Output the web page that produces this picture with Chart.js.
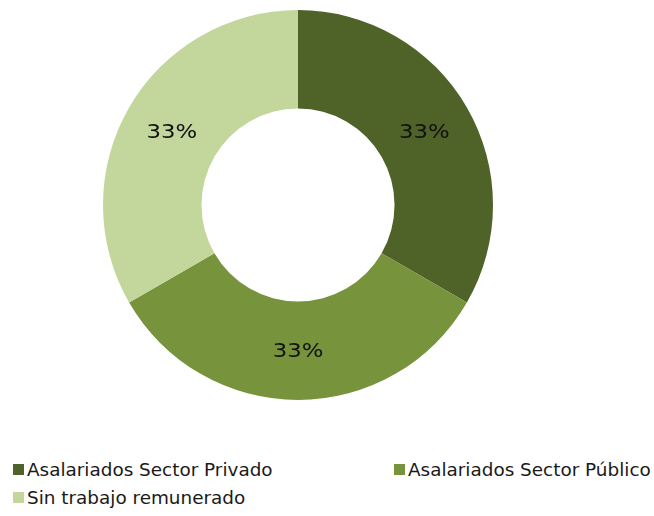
<!DOCTYPE html>
<html>
<head>
<meta charset="utf-8">
<script src="https://cdn.jsdelivr.net/npm/chart.js@4/dist/chart.umd.min.js"></script>
<style>
  html, body { margin: 0; padding: 0; background: #ffffff; }
  body { width: 654px; height: 516px; position: relative; overflow: hidden; font-family: "DejaVu Sans", Verdana, sans-serif; }
  #wrap { position: absolute; left: 0; top: 0; width: 596px; height: 410px; }
  #legend { position: absolute; left: 0; top: 0; width: 654px; }
  .item { position: absolute; display: flex; align-items: center; height: 22px; font-size: 18.4px; color: #1a1a1a; white-space: nowrap; }
  .sw { width: 11px; height: 11px; margin-right: 3px; }
</style>
</head>
<body>
<div id="wrap"><canvas id="c"></canvas></div>
<div id="legend"></div>
<script>
const categories = ["Asalariados Sector Privado", "Asalariados Sector Público", "Sin trabajo remunerado"];
const values = [33, 33, 33];
const colors = ["#4F6228", "#77933C", "#C3D69B"];

const labelPlugin = {
  id: 'sliceLabels',
  afterDatasetsDraw(chart) {
    const ctx = chart.ctx;
    const meta = chart.getDatasetMeta(0);
    const data = chart.data.datasets[0].data;
    const total = data.reduce((a, b) => a + b, 0);
    ctx.save();
    ctx.font = '19px "DejaVu Sans", Verdana, sans-serif';
    ctx.fillStyle = '#111111';
    ctx.textAlign = 'center';
    ctx.textBaseline = 'middle';
    const sx = 1.2;
    meta.data.forEach((arc, i) => {
      const p = arc.tooltipPosition();
      const pct = Math.round(data[i] / total * 100) + '%';
      ctx.save();
      ctx.translate(p.x, p.y + 1);
      ctx.scale(sx, 1);
      ctx.fillText(pct, 0, 0);
      ctx.restore();
    });
    ctx.restore();
  }
};

const chart = new Chart(document.getElementById('c'), {
  type: 'doughnut',
  data: {
    labels: categories,
    datasets: [{ data: values, backgroundColor: colors, borderWidth: 0, hoverOffset: 0 }]
  },
  options: {
    responsive: true,
    maintainAspectRatio: false,
    animation: false,
    cutout: '49.5%',
    layout: { padding: { top: 10, bottom: 10, left: 0, right: 0 } },
    plugins: { legend: { display: false }, tooltip: { enabled: false } }
  },
  plugins: [labelPlugin]
});

const pos = [[13, 458], [394, 458], [13, 486]];
const legendEl = document.getElementById('legend');
chart.options.plugins.legend.labels.generateLabels(chart).forEach((l, i) => {
  const d = document.createElement('div');
  d.className = 'item';
  d.style.left = pos[i][0] + 'px';
  d.style.top = pos[i][1] + 'px';
  const s = document.createElement('span');
  s.className = 'sw';
  s.style.background = l.fillStyle;
  d.appendChild(s);
  d.appendChild(document.createTextNode(l.text));
  legendEl.appendChild(d);
});
</script>
</body>
</html>
